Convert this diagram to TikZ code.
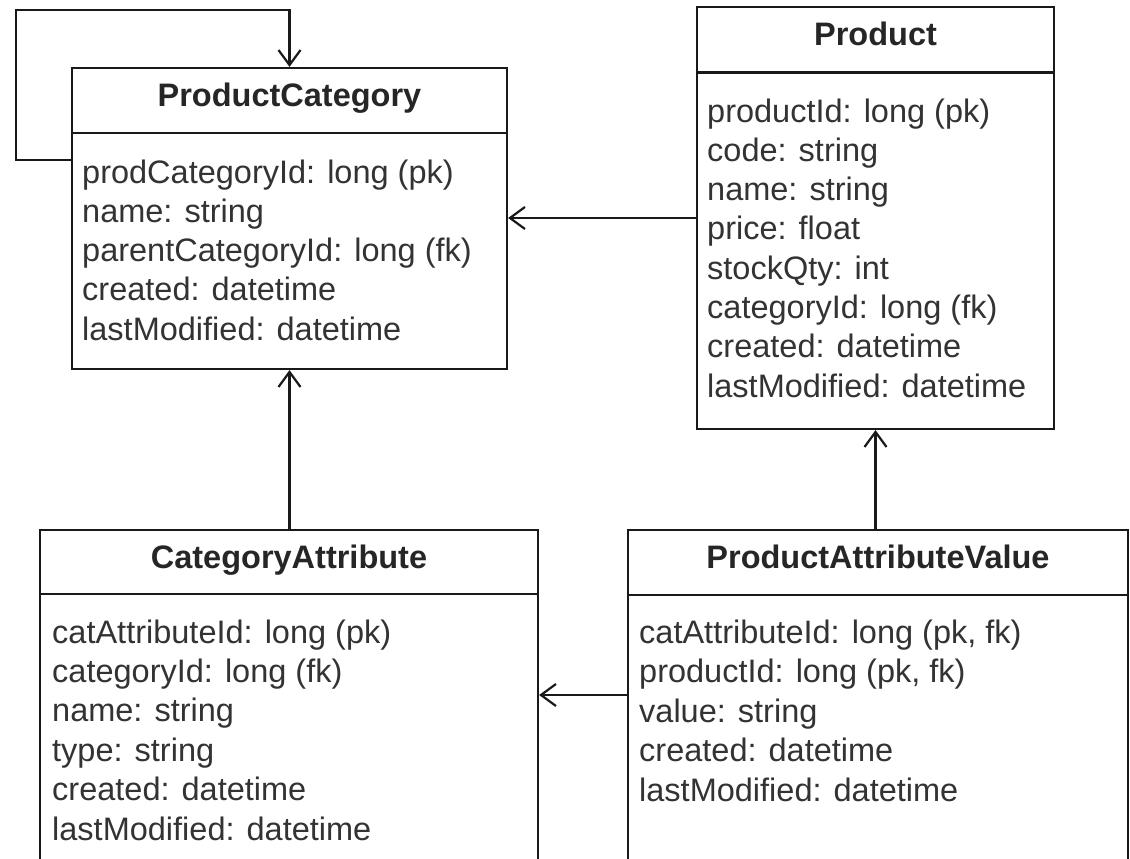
\documentclass[tikz,border=0pt]{standalone}
\usepackage{fontspec}
\setmainfont{Liberation Sans}
\usetikzlibrary{arrows.meta}

\tikzset{
  entity/.style={draw=black!90, line width=2.2pt, fill=white, inner sep=0pt},
  divider/.style={draw=black!90, line width=2.2pt},
  title/.style={font=\fontsize{32.5}{39}\selectfont\bfseries, text=black!85, inner sep=0pt, anchor=base},
  field/.style={font=\fontsize{32.5}{39}\selectfont, text=black!80, inner sep=0pt, anchor=base west},
  link/.style={draw=black!90, line width=2.2pt,
    -{Straight Barb[length=15pt,width=22pt,line width=2.2pt]}},
}

\begin{document}
\begin{tikzpicture}[x=1pt,y=-1pt]
  \fill[white] (0,0) rectangle (1130,859);
  \clip (0,0) rectangle (1130,859);

  % entity boxes
  \node[entity, minimum width=435pt, minimum height=301pt] (pc)   at (289.5,218.5) {};
  \node[entity, minimum width=357pt, minimum height=422pt] (prod) at (875.5,218)   {};
  \node[entity, minimum width=498pt, minimum height=370pt] (ca)   at (289,715)     {};
  \node[entity, minimum width=500pt, minimum height=370pt] (pav)  at (878,715)     {};

  % header separators
  \draw[divider] (72,133) -- (507,133);
  \draw[divider] (697,72.5) -- (1054,72.5);
  \draw[divider] (40,594) -- (538,594);
  \draw[divider] (628,595) -- (1128,595);

  % titles
  \node[title] (pct)   at (289.5,106.5) {ProductCategory};
  \node[title] (prodt) at (875.5,45.5)  {Product};
  \node[title] (cat)   at (289,568)     {CategoryAttribute};
  \node[title] (pavt)  at (878,568.5)   {ProductAttributeValue};

  % attribute lists
  \foreach \t [count=\i] in {{prodCategoryId: long (pk)},{name: string},
      {parentCategoryId: long (fk)},{created: datetime},{lastModified: datetime}}
    \node[field] (pc-\i) at (82,{183+39.3*(\i-1)}) {\t};

  \foreach \t [count=\i] in {{productId: long (pk)},{code: string},{name: string},
      {price: float},{stockQty: int},{categoryId: long (fk)},{created: datetime},
      {lastModified: datetime}}
    \node[field] (prod-\i) at (707,{122+39.3*(\i-1)}) {\t};

  \foreach \t [count=\i] in {{catAttributeId: long (pk)},{categoryId: long (fk)},
      {name: string},{type: string},{created: datetime},{lastModified: datetime}}
    \node[field] (ca-\i) at (52,{643+39.4*(\i-1)}) {\t};

  \foreach \t [count=\i] in {{catAttributeId: long (pk, fk)},{productId: long (pk, fk)},
      {value: string},{created: datetime},{lastModified: datetime}}
    \node[field] (pav-\i) at (639,{643+39.6*(\i-1)}) {\t};

  % relationships
  \coordinate (pcself) at ([yshift=58.5pt]pc.west);
  \coordinate (selfcorner) at (16,10);
  \draw[link] (pcself) -| (selfcorner) -| (pc.north);

  \draw[link] (prod.west) -- (prod.west -| pc.east);
  \draw[link] (ca.north -| pc.south) -- (pc.south);
  \draw[link] (pav.north -| prod.south) -- (prod.south);

  \coordinate (pavout) at ([yshift=20pt]pav.west);
  \draw[link] (pavout) -- (pavout -| ca.east);
\end{tikzpicture}
\end{document}
